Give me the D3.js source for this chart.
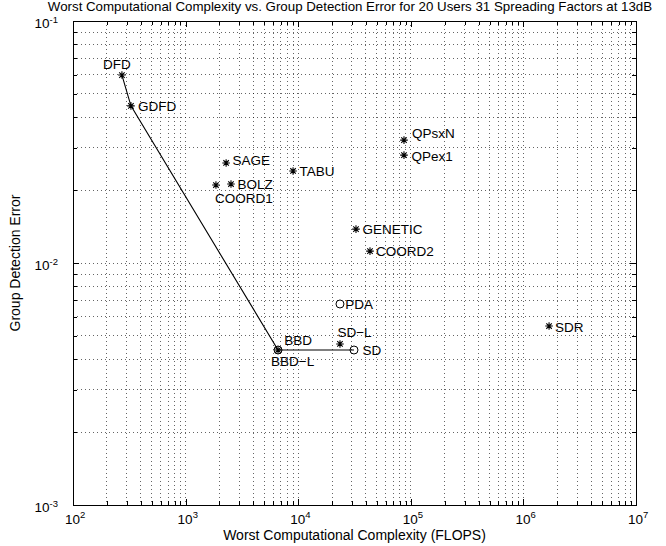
<!DOCTYPE html>
<html>
<head>
<meta charset="utf-8">
<script src="https://cdn.jsdelivr.net/npm/d3@7"></script>
<style>
  body { margin: 0; background: #fff; }
  text { font-family: "Liberation Sans", Arial, Helvetica, sans-serif; fill: #000; }
</style>
</head>
<body>
<div id="chart"></div>
<script>
// values
const methods    = ["DFD", "GDFD", "SAGE", "BOLZ", "COORD1", "TABU", "QPsxN", "QPex1",
                    "GENETIC", "COORD2", "PDA", "SD-L", "SD", "BBD", "BBD-L", "SDR"];
const flops      = [272, 327, 2290, 2530, 1860, 9000, 87000, 87000,
                    32600, 43400, 23500, 23500, 31300, 6620, 6620, 1690000];
const groupError = [0.0598, 0.0446, 0.0259, 0.0212, 0.0210, 0.0240, 0.0322, 0.0279,
                    0.0138, 0.0112, 0.00677, 0.00463, 0.00437, 0.00437, 0.00437, 0.00549];
const markerType = ["star", "star", "star", "star", "star", "star", "star", "star",
                    "star", "star", "circle", "star", "circle", "star", "circle", "star"];
const pathMethods = ["DFD", "GDFD", "BBD", "SD"];
const xExponents = [2, 3, 4, 5, 6, 7];
const yExponents = [-3, -2, -1];

const title = "Worst Computational Complexity vs. Group Detection Error for 20 Users 31 Spreading Factors at 13dB";
const xTitle = "Worst Computational Complexity (FLOPS)";
const yTitle = "Group Detection Error";

// label placement relative to the marker: [dx, baseline dy, anchor]
const labelPlace = {
  "DFD": [-5, -6, "middle"], "GDFD": [7, 5, "start"], "SAGE": [6.5, 2, "start"],
  "BOLZ": [6.5, 5, "start"], "COORD1": [-1, 17.5, "start"], "TABU": [6.5, 5, "start"],
  "QPsxN": [8, -2.5, "start"], "QPex1": [7.5, 5.5, "start"], "GENETIC": [6.5, 4.7, "start"],
  "COORD2": [6, 5, "start"], "PDA": [5.3, 5.3, "start"], "SD-L": [-2.5, -7, "start"],
  "SD": [8.5, 5.3, "start"], "BBD": [6.3, -5, "start"], "BBD-L": [-7, 16, "start"],
  "SDR": [6, 5.5, "start"]
};

const W = 666, H = 546;
const margin = {top: 21, right: 30, bottom: 41, left: 73};
const width = W - margin.left - margin.right;
const height = H - margin.top - margin.bottom;

const svg = d3.select("#chart").append("svg")
  .attr("width", W).attr("height", H);

const g = svg.append("g")
  .attr("transform", `translate(${margin.left},${margin.top})`);

const x = d3.scaleLog()
  .domain([Math.pow(10, xExponents[0]), Math.pow(10, xExponents[xExponents.length - 1])])
  .range([0, width]);
const y = d3.scaleLog()
  .domain([Math.pow(10, yExponents[0]), Math.pow(10, yExponents[yExponents.length - 1])])
  .range([height, 0]);

const xMajor = xExponents.map(e => Math.pow(10, e));
const yMajor = yExponents.map(e => Math.pow(10, e));
const xAll = x.ticks();
const yAll = y.ticks();
const isMajor = v => Math.abs(Math.log10(v) - Math.round(Math.log10(v))) < 1e-9;

// dotted grid
g.append("g").selectAll("line")
  .data(xAll.filter(v => v > x.domain()[0] && v < x.domain()[1]))
  .enter().append("line")
  .attr("x1", d => x(d)).attr("x2", d => x(d))
  .attr("y1", 0).attr("y2", height)
  .attr("stroke", "#000").attr("stroke-width", 1)
  .attr("stroke-dasharray", "1,3").attr("opacity", 0.6)
  .attr("shape-rendering", "crispEdges");
g.append("g").selectAll("line")
  .data(yAll.filter(v => v > y.domain()[0] && v < y.domain()[1]))
  .enter().append("line")
  .attr("y1", d => y(d)).attr("y2", d => y(d))
  .attr("x1", 0).attr("x2", width)
  .attr("stroke", "#000").attr("stroke-width", 1)
  .attr("stroke-dasharray", "1,3").attr("opacity", 0.6)
  .attr("shape-rendering", "crispEdges");

// inward ticks on all four sides
function tickAxis(axisFn, scale, values, size, transform) {
  g.append("g")
    .attr("transform", transform)
    .call(axisFn(scale).tickValues(values).tickSize(size).tickFormat(""))
    .call(a => a.select(".domain").remove())
    .call(a => a.selectAll("line").attr("stroke", "#000").attr("shape-rendering", "crispEdges"));
}
const xMinor = xAll.filter(v => !isMajor(v));
const yMinor = yAll.filter(v => !isMajor(v));
tickAxis(d3.axisBottom, x, xMajor, -6, `translate(0,${height})`);
tickAxis(d3.axisBottom, x, xMinor, -4, `translate(0,${height})`);
tickAxis(d3.axisTop, x, xMajor, -6, "translate(0,0)");
tickAxis(d3.axisTop, x, xMinor, -4, "translate(0,0)");
tickAxis(d3.axisLeft, y, yMajor, -6, "translate(0,0)");
tickAxis(d3.axisLeft, y, yMinor, -4, "translate(0,0)");
tickAxis(d3.axisRight, y, yMajor, -6, `translate(${width},0)`);
tickAxis(d3.axisRight, y, yMinor, -4, `translate(${width},0)`);

g.append("rect")
  .attr("width", width).attr("height", height)
  .attr("fill", "none").attr("stroke", "#000").attr("stroke-width", 1)
  .attr("shape-rendering", "crispEdges");

// tick labels as 10^n
const xl = g.append("g").selectAll("text")
  .data(xExponents).enter().append("text")
  .attr("x", d => x(Math.pow(10, d)) - 8)
  .attr("y", height + 19)
  .attr("font-size", 13.5);
xl.append("tspan").text("10");
xl.append("tspan").attr("dy", -6).attr("font-size", 9.5).text(d => d);

const yl = g.append("g").selectAll("text")
  .data(yExponents).enter().append("text")
  .attr("x", -15)
  .attr("y", d => y(Math.pow(10, d)) + 6.5)
  .attr("text-anchor", "end")
  .attr("font-size", 13.5);
yl.append("tspan").text("10");
yl.append("tspan").attr("dy", -5).attr("font-size", 9.5).text(d => d);

// titles
svg.append("text")
  .attr("x", 350).attr("y", 11)
  .attr("text-anchor", "middle").attr("font-size", 13.3)
  .text(title);
svg.append("text")
  .attr("x", margin.left + width / 2).attr("y", 540)
  .attr("text-anchor", "middle").attr("font-size", 14)
  .text(xTitle);
svg.append("text")
  .attr("transform", `translate(20,${margin.top + height / 2}) rotate(-90)`)
  .attr("text-anchor", "middle").attr("font-size", 14)
  .text(yTitle);

// data
const points = methods.map((m, i) => ({name: m, flops: flops[i], err: groupError[i], type: markerType[i]}));
const pathPts = pathMethods.map(n => points.find(p => p.name === n));

g.append("path")
  .datum(pathPts)
  .attr("fill", "none").attr("stroke", "#000").attr("stroke-width", 1.1)
  .attr("d", d3.line().x(d => x(d.flops)).y(d => y(d.err)));

const r = 3.8;
const k = r * 0.72;
const starPath = `M${-r},0H${r}M0,${-r}V${r}M${-k},${-k}L${k},${k}M${-k},${k}L${k},${-k}`;

const marks = g.append("g").selectAll("g")
  .data(points).enter().append("g")
  .attr("transform", d => `translate(${x(d.flops)},${y(d.err)})`);
marks.filter(d => d.type === "star").append("path")
  .attr("d", starPath).attr("stroke", "#000").attr("stroke-width", 1.1).attr("fill", "none");
marks.filter(d => d.type === "circle").append("circle")
  .attr("r", 4).attr("stroke", "#000").attr("stroke-width", 1).attr("fill", "none");

g.append("g").selectAll("text")
  .data(points).enter().append("text")
  .attr("x", d => x(d.flops) + labelPlace[d.name][0])
  .attr("y", d => y(d.err) + labelPlace[d.name][1])
  .attr("text-anchor", d => labelPlace[d.name][2])
  .attr("font-size", 13.5)
  .text(d => d.name.replace("-", "\u2212"));
</script>
</body>
</html>
